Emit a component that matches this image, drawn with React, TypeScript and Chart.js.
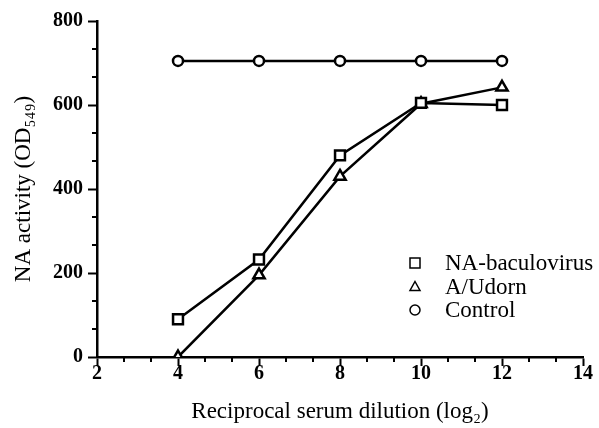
import React, { useEffect, useRef } from "react";
import { Chart, registerables } from "chart.js";

Chart.register(...registerables);

const xValues = [4, 6, 8, 10, 12];
const naBaculovirus = [90, 232, 480, 605, 600];
const aUdorn = [0, 195, 430, 603, 642];
const control = [705, 705, 705, 705, 705];
const seriesLabels = ["NA-baculovirus", "A/Udorn", "Control"];
const seriesStyles = ["rect", "triangle", "circle"];
const xMajorTicks = [2, 4, 6, 8, 10, 12, 14];
const yMajorTicks = [0, 200, 400, 600, 800];
const xTitle = "Reciprocal serum dilution (log\u2082)";
const yTitle = "NA activity (OD\u2085\u2084\u2089)";

const FONT = "'Liberation Serif', 'Times New Roman', serif";

function minorsOf(majors: number[]): number[] {
  const out: number[] = [];
  for (let i = 0; i < majors.length - 1; i++) {
    const a = majors[i];
    const b = majors[i + 1];
    out.push(a + (b - a) / 3, a + (2 * (b - a)) / 3);
  }
  return out;
}

const decorPlugin = {
  id: "decor",
  afterDraw(chart: any) {
    const { ctx, chartArea, scales } = chart;
    const xs = scales.x;
    const ys = scales.y;
    ctx.save();
    ctx.strokeStyle = "#000";
    ctx.lineWidth = 2;
    ctx.beginPath();
    for (const v of minorsOf(xMajorTicks)) {
      const px = Math.round(xs.getPixelForValue(v));
      ctx.moveTo(px, chartArea.bottom);
      ctx.lineTo(px, chartArea.bottom + 5);
    }
    for (const v of minorsOf(yMajorTicks)) {
      const py = Math.round(ys.getPixelForValue(v));
      ctx.moveTo(chartArea.left - 5, py);
      ctx.lineTo(chartArea.left, py);
    }
    ctx.stroke();

    // legend
    const mx = chartArea.right - 168;
    const tx = chartArea.right - 138;
    const y0 = chartArea.top + 242;
    const dy = 23.5;
    ctx.lineWidth = 1.5;
    ctx.fillStyle = "#000";
    ctx.font = `23px ${FONT}`;
    ctx.textBaseline = "middle";
    ctx.textAlign = "left";
    seriesLabels.forEach((label, i) => {
      const cy = y0 + i * dy;
      ctx.beginPath();
      const s = seriesStyles[i];
      if (s === "rect") {
        ctx.rect(mx - 5, cy - 5, 10, 10);
      } else if (s === "triangle") {
        ctx.moveTo(mx, cy - 5);
        ctx.lineTo(mx + 5, cy + 4);
        ctx.lineTo(mx - 5, cy + 4);
        ctx.closePath();
      } else {
        ctx.arc(mx, cy, 5, 0, Math.PI * 2);
      }
      ctx.stroke();
      ctx.fillText(label, tx, cy + 1);
    });
    ctx.restore();
  },
};

export default function App() {
  const ref = useRef<HTMLCanvasElement | null>(null);
  useEffect(() => {
    if (!ref.current) return;
    const series = [naBaculovirus, aUdorn, control];
    const radii = [7, 6.5, 5];
    const chart = new Chart(ref.current, {
      type: "scatter",
      data: {
        datasets: series.map((vals, i) => ({
          label: seriesLabels[i],
          data: xValues.map((x, j) => ({ x, y: vals[j] })),
          showLine: true,
          borderColor: "#000",
          borderWidth: 2.5,
          pointStyle: seriesStyles[i] as any,
          pointRadius: radii[i],
          pointHoverRadius: radii[i],
          pointBackgroundColor: "#fff",
          pointBorderColor: "#000",
          pointBorderWidth: 2.5,
          clip: i === 1 ? { left: 8, top: 8, right: 8, bottom: 0 } : false,
        })) as any,
      },
      options: {
        responsive: false,
        animation: false,
        events: [],
        layout: { padding: { left: 0, top: 21, right: 16, bottom: 0 } },
        plugins: {
          legend: { display: false },
          tooltip: { enabled: false },
        },
        scales: {
          x: {
            type: "linear",
            min: 2,
            max: 14,
            afterBuildTicks: (scale: any) => {
              scale.ticks = xMajorTicks.map((v) => ({ value: v }));
            },
            afterFit: (scale: any) => {
              scale.height = 71;
            },
            ticks: {
              color: "#000",
              padding: 0,
              font: { family: FONT, size: 20, weight: "bold", lineHeight: 0.8 },
              maxRotation: 0,
            },
            grid: {
              display: true,
              drawOnChartArea: false,
              drawTicks: true,
              tickLength: 9,
              tickWidth: 2,
              tickColor: "#000",
            },
            border: { display: true, color: "#000", width: 2.5 },
            title: {
              display: true,
              text: xTitle,
              color: "#000",
              font: { family: FONT, size: 23 },
              padding: { top: 0, bottom: 2 },
            },
          },
          y: {
            type: "linear",
            min: 0,
            max: 800,
            afterBuildTicks: (scale: any) => {
              scale.ticks = yMajorTicks.map((v) => ({ value: v }));
            },
            afterFit: (scale: any) => {
              scale.width = 97;
            },
            ticks: {
              color: "#000",
              padding: 5,
              font: { family: FONT, size: 20, weight: "bold" },
            },
            grid: {
              display: true,
              drawOnChartArea: false,
              drawTicks: true,
              tickLength: 9,
              tickWidth: 2,
              tickColor: "#000",
            },
            border: { display: true, color: "#000", width: 2.5 },
            title: {
              display: true,
              text: yTitle,
              color: "#000",
              font: { family: FONT, size: 23 },
              padding: { top: 10, bottom: 0 },
            },
          },
        },
      },
      plugins: [decorPlugin],
    });
    return () => chart.destroy();
  }, []);
  return (
    <div style={{ position: "absolute", left: 0, top: 0, width: 599, height: 428, background: "#fff" }}>
      <canvas ref={ref} width={599} height={428} style={{ display: "block", width: 599, height: 428 }} />
    </div>
  );
}
